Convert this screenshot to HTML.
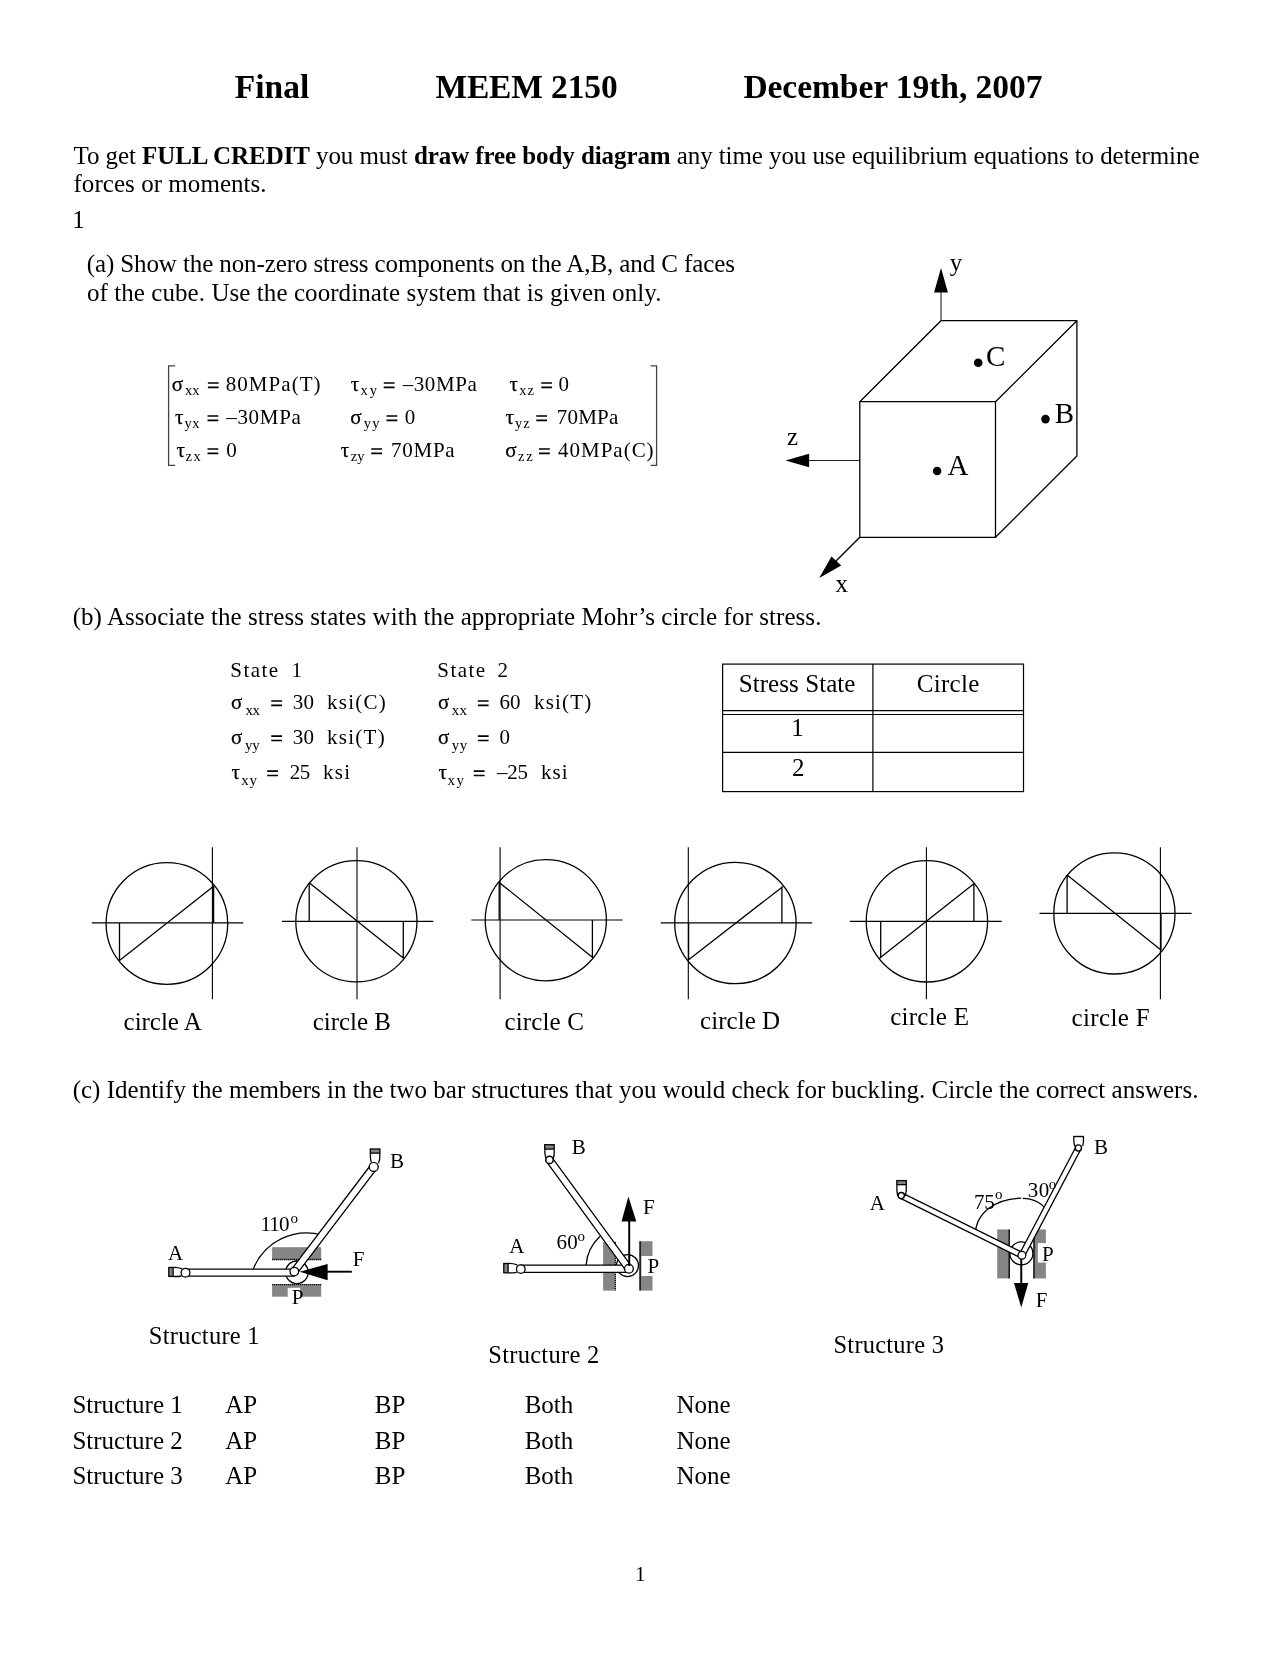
<!DOCTYPE html>
<html><head><meta charset="utf-8"><title>Final MEEM 2150</title>
<style>
html,body{margin:0;padding:0;background:#fff;}
body{width:1280px;height:1656px;overflow:hidden;}
svg{display:block;will-change:transform;}
text{font-family:"Liberation Serif",serif;fill:#000;}
</style></head><body>
<svg width="1280" height="1656" viewBox="0 0 1280 1656">
<rect width="1280" height="1656" fill="#fff"/>
<text x="234.70" y="97.50" font-size="33.5" font-weight="bold" textLength="74.61" lengthAdjust="spacing">Final</text>
<text x="435.40" y="97.50" font-size="33.5" font-weight="bold" textLength="182.30" lengthAdjust="spacing">MEEM 2150</text>
<text x="743.40" y="97.50" font-size="33.5" font-weight="bold" textLength="298.98" lengthAdjust="spacing">December 19th, 2007</text>
<text x="73.5" y="163.6" font-size="25" textLength="1126" lengthAdjust="spacing">To get <tspan font-weight="bold">FULL CREDIT</tspan> you must <tspan font-weight="bold">draw free body diagram</tspan> any time you use equilibrium equations to determine</text>
<text x="73.50" y="192.40" font-size="25" textLength="193.11" lengthAdjust="spacing">forces or moments.</text>
<text x="72.30" y="227.60" font-size="25">1</text>
<text x="86.70" y="271.60" font-size="25" textLength="648.22" lengthAdjust="spacing">(a) Show the non-zero stress components on the A,B, and C faces</text>
<text x="86.90" y="300.50" font-size="25" textLength="574.56" lengthAdjust="spacing">of the cube. Use the coordinate system that is given only.</text>
<text x="72.65" y="624.70" font-size="25" textLength="748.75" lengthAdjust="spacing">(b) Associate the stress states with the appropriate Mohr’s circle for stress.</text>
<text x="72.65" y="1098.10" font-size="25" textLength="1125.78" lengthAdjust="spacing">(c) Identify the members in the two bar structures that you would check for buckling. Circle the correct answers.</text>
<text x="171.70" y="390.80" font-size="21" stroke="#000" stroke-width="0.25">σ</text>
<text x="184.90" y="395.40" font-size="14.5" textLength="14.70" lengthAdjust="spacing">xx</text>
<path d="M207.90 382.95h10.8M207.90 387.35h10.8" stroke="#000" stroke-width="1.6" fill="none"/>
<text x="225.80" y="390.80" font-size="21" textLength="94.79" lengthAdjust="spacing">80MPa(T)</text>
<text x="350.75" y="390.80" font-size="21" stroke="#000" stroke-width="0.25">τ</text>
<text x="360.50" y="395.40" font-size="14.5" textLength="16.40" lengthAdjust="spacing">xy</text>
<path d="M383.75 382.95h10.8M383.75 387.35h10.8" stroke="#000" stroke-width="1.6" fill="none"/>
<text x="402.70" y="390.80" font-size="21" textLength="74.07" lengthAdjust="spacing">–30MPa</text>
<text x="509.50" y="390.80" font-size="21" stroke="#000" stroke-width="0.25">τ</text>
<text x="519.30" y="395.40" font-size="14.5" textLength="14.59" lengthAdjust="spacing">xz</text>
<path d="M541.25 382.95h10.8M541.25 387.35h10.8" stroke="#000" stroke-width="1.6" fill="none"/>
<text x="558.60" y="390.80" font-size="21">0</text>
<text x="175.10" y="423.80" font-size="21" stroke="#000" stroke-width="0.25">τ</text>
<text x="184.55" y="428.40" font-size="14.5" textLength="14.95" lengthAdjust="spacing">yx</text>
<path d="M207.50 415.95h10.8M207.50 420.35h10.8" stroke="#000" stroke-width="1.6" fill="none"/>
<text x="226.20" y="423.80" font-size="21" textLength="74.67" lengthAdjust="spacing">–30MPa</text>
<text x="350.20" y="423.80" font-size="21" stroke="#000" stroke-width="0.25">σ</text>
<text x="363.80" y="428.40" font-size="14.5" textLength="15.60" lengthAdjust="spacing">yy</text>
<path d="M386.50 415.95h10.8M386.50 420.35h10.8" stroke="#000" stroke-width="1.6" fill="none"/>
<text x="404.80" y="423.80" font-size="21">0</text>
<text x="505.50" y="423.80" font-size="21" stroke="#000" stroke-width="0.25">τ</text>
<text x="515.05" y="428.40" font-size="14.5" textLength="14.74" lengthAdjust="spacing">yz</text>
<path d="M536.25 415.95h10.8M536.25 420.35h10.8" stroke="#000" stroke-width="1.6" fill="none"/>
<text x="556.70" y="423.80" font-size="21" textLength="61.67" lengthAdjust="spacing">70MPa</text>
<text x="176.40" y="456.80" font-size="21" stroke="#000" stroke-width="0.25">τ</text>
<text x="185.60" y="461.40" font-size="14.5" textLength="15.19" lengthAdjust="spacing">zx</text>
<path d="M207.50 448.95h10.8M207.50 453.35h10.8" stroke="#000" stroke-width="1.6" fill="none"/>
<text x="226.30" y="456.80" font-size="21">0</text>
<text x="340.75" y="456.80" font-size="21" stroke="#000" stroke-width="0.25">τ</text>
<text x="350.85" y="461.40" font-size="14.5" textLength="13.64" lengthAdjust="spacing">zy</text>
<path d="M371.25 448.95h10.8M371.25 453.35h10.8" stroke="#000" stroke-width="1.6" fill="none"/>
<text x="391.10" y="456.80" font-size="21" textLength="63.57" lengthAdjust="spacing">70MPa</text>
<text x="505.20" y="456.80" font-size="21" stroke="#000" stroke-width="0.25">σ</text>
<text x="518.10" y="461.40" font-size="14.5" textLength="14.62" lengthAdjust="spacing">zz</text>
<path d="M539.00 448.95h10.8M539.00 453.35h10.8" stroke="#000" stroke-width="1.6" fill="none"/>
<text x="558.10" y="456.80" font-size="21" textLength="95.52" lengthAdjust="spacing">40MPa(C)</text>
<path d="M175.2 365.9H168.6V465.4H175.2M650.6 365.9H656.6V465.4H650.6" fill="none" stroke="#444" stroke-width="1.3"/>
<g fill="none" stroke="#000" stroke-width="1.3" stroke-linejoin="miter"><path d="M859.8 401.7H995.5V537.3H859.8Z"/><path d="M859.8 401.7L941 320.7H1076.9V456L995.5 537.3M995.5 401.7L1076.9 320.7"/></g>
<g stroke="#222" stroke-width="1.1" fill="none"><path d="M941 320.7V290"/><path d="M859.8 460.5H805"/></g><path d="M859.8 537.3L835 562" stroke="#000" stroke-width="1.4"/>
<g fill="#000"><path d="M941 268L934.1 292.6H947.9Z"/><path d="M785.5 460.5L809.1 453.7V467.3Z"/><path d="M819.2 577.9L831.5 556.4L841.25 565.6Z"/></g>
<g fill="#000"><circle cx="978.2" cy="362.7" r="4.3"/><circle cx="1045.5" cy="419.1" r="4.3"/><circle cx="937.1" cy="471" r="4.3"/></g>
<text x="986.10" y="366.20" font-size="29">C</text>
<text x="1054.80" y="422.60" font-size="29">B</text>
<text x="947.50" y="474.70" font-size="29">A</text>
<text x="949.70" y="271.00" font-size="25">y</text>
<text x="787.10" y="444.80" font-size="25">z</text>
<text x="835.60" y="592.00" font-size="25">x</text>
<text x="230.30" y="677.30" font-size="21" textLength="47.89" lengthAdjust="spacing">State</text>
<text x="291.60" y="677.30" font-size="21">1</text>
<text x="231.10" y="708.80" font-size="21" stroke="#000" stroke-width="0.25">σ</text>
<text x="245.40" y="714.80" font-size="15" textLength="14.60" lengthAdjust="spacing">xx</text>
<path d="M271.25 700.95h10.8M271.25 705.35h10.8" stroke="#000" stroke-width="1.6" fill="none"/>
<text x="292.75" y="708.80" font-size="21" textLength="21.35" lengthAdjust="spacing">30</text>
<text x="327.10" y="708.80" font-size="21" textLength="58.60" lengthAdjust="spacing">ksi(C)</text>
<text x="231.10" y="744.00" font-size="21" stroke="#000" stroke-width="0.25">σ</text>
<text x="245.00" y="750.00" font-size="15" textLength="14.80" lengthAdjust="spacing">yy</text>
<path d="M271.25 736.15h10.8M271.25 740.55h10.8" stroke="#000" stroke-width="1.6" fill="none"/>
<text x="292.75" y="744.00" font-size="21" textLength="21.35" lengthAdjust="spacing">30</text>
<text x="327.10" y="744.00" font-size="21" textLength="57.57" lengthAdjust="spacing">ksi(T)</text>
<text x="231.50" y="779.00" font-size="21" stroke="#000" stroke-width="0.25">τ</text>
<text x="241.30" y="785.00" font-size="15" textLength="15.70" lengthAdjust="spacing">xy</text>
<path d="M267.20 771.15h10.8M267.20 775.55h10.8" stroke="#000" stroke-width="1.6" fill="none"/>
<text x="289.70" y="779.00" font-size="21" textLength="20.50" lengthAdjust="spacing">25</text>
<text x="323.00" y="779.00" font-size="21" textLength="27.11" lengthAdjust="spacing">ksi</text>
<text x="437.35" y="677.30" font-size="21" textLength="47.74" lengthAdjust="spacing">State</text>
<text x="497.50" y="677.30" font-size="21">2</text>
<text x="437.95" y="708.80" font-size="21" stroke="#000" stroke-width="0.25">σ</text>
<text x="451.80" y="714.80" font-size="15" textLength="15.30" lengthAdjust="spacing">xx</text>
<path d="M477.80 700.95h10.8M477.80 705.35h10.8" stroke="#000" stroke-width="1.6" fill="none"/>
<text x="499.40" y="708.80" font-size="21" textLength="21.20" lengthAdjust="spacing">60</text>
<text x="534.00" y="708.80" font-size="21" textLength="57.22" lengthAdjust="spacing">ksi(T)</text>
<text x="437.95" y="744.00" font-size="21" stroke="#000" stroke-width="0.25">σ</text>
<text x="451.70" y="750.00" font-size="15" textLength="15.50" lengthAdjust="spacing">yy</text>
<path d="M477.80 736.15h10.8M477.80 740.55h10.8" stroke="#000" stroke-width="1.6" fill="none"/>
<text x="499.50" y="744.00" font-size="21">0</text>
<text x="438.40" y="779.00" font-size="21" stroke="#000" stroke-width="0.25">τ</text>
<text x="447.60" y="785.00" font-size="15" textLength="16.40" lengthAdjust="spacing">xy</text>
<path d="M473.75 771.15h10.8M473.75 775.55h10.8" stroke="#000" stroke-width="1.6" fill="none"/>
<text x="497.10" y="779.00" font-size="21" textLength="31.00" lengthAdjust="spacing">–25</text>
<text x="541.00" y="779.00" font-size="21" textLength="26.61" lengthAdjust="spacing">ksi</text>
<g fill="none" stroke="#000" stroke-width="1.2"><rect x="722.6" y="664.1" width="300.9" height="127.5"/><path d="M872.9 664.1V791.6M722.6 710.6H1023.5M722.6 714.5H1023.5M722.6 752.3H1023.5"/></g>
<text x="738.70" y="691.70" font-size="25" textLength="116.77" lengthAdjust="spacing">Stress State</text>
<text x="916.80" y="691.70" font-size="25" textLength="62.48" lengthAdjust="spacing">Circle</text>
<text x="791.30" y="735.50" font-size="25">1</text>
<text x="791.90" y="775.60" font-size="25">2</text>
<path d="M91.9 922.9H243.3M212.4 847.2V999.2" fill="none" stroke="#000" stroke-width="1.1"/>
<circle cx="166.9" cy="923.5" r="60.8" fill="none" stroke="#000" stroke-width="1.3"/>
<path d="M119.5 960.6L214.2 885.8M119.5 922.9V960.6M213.6 922.9V885.8" fill="none" stroke="#000" stroke-width="1.3"/>
<text x="123.60" y="1030.40" font-size="25" textLength="78.23" lengthAdjust="spacing">circle A</text>
<path d="M281.9 921.4H433.3M357 847.2V999.2" fill="none" stroke="#000" stroke-width="1.1"/>
<circle cx="356.4" cy="921.3" r="60.6" fill="none" stroke="#000" stroke-width="1.3"/>
<path d="M309.2 882.8L403.6 958.3M309.2 921.4V882.8M403.3 921.4V958.3" fill="none" stroke="#000" stroke-width="1.3"/>
<text x="312.80" y="1030.40" font-size="25" textLength="78.03" lengthAdjust="spacing">circle B</text>
<path d="M471.3 920H622.7M500.1 847.2V999.2" fill="none" stroke="#000" stroke-width="1.1"/>
<circle cx="545.8" cy="920.2" r="60.6" fill="none" stroke="#000" stroke-width="1.3"/>
<path d="M498.6 882L593 957.7M499.2 920V882M592.4 920V957.7" fill="none" stroke="#000" stroke-width="1.3"/>
<text x="504.50" y="1030.40" font-size="25" textLength="79.43" lengthAdjust="spacing">circle C</text>
<path d="M660.7 922.9H812.1M688.3 847.2V999.2" fill="none" stroke="#000" stroke-width="1.1"/>
<circle cx="735.4" cy="923" r="60.7" fill="none" stroke="#000" stroke-width="1.3"/>
<path d="M688.3 960L783 886.4M781.9 922.9V886.4M688.6 922.9V960" fill="none" stroke="#000" stroke-width="1.3"/>
<text x="700.10" y="1028.90" font-size="25" textLength="80.01" lengthAdjust="spacing">circle D</text>
<path d="M849.8 921.4H1001.8M926.4 847.2V999.2" fill="none" stroke="#000" stroke-width="1.1"/>
<circle cx="926.9" cy="921.3" r="60.7" fill="none" stroke="#000" stroke-width="1.3"/>
<path d="M879.5 958.3L974.2 883.4M880.7 921.4V958.3M973.9 921.4V883.4" fill="none" stroke="#000" stroke-width="1.3"/>
<text x="890.20" y="1024.50" font-size="25" textLength="78.73" lengthAdjust="spacing">circle E</text>
<path d="M1039.5 913.4H1191.5M1160.4 847.2V999.2" fill="none" stroke="#000" stroke-width="1.1"/>
<circle cx="1114.4" cy="913.4" r="60.6" fill="none" stroke="#000" stroke-width="1.3"/>
<path d="M1067.1 875.1L1161.3 950.2M1067.1 913.4V875.1M1161 913.4V950.2" fill="none" stroke="#000" stroke-width="1.3"/>
<text x="1071.60" y="1026.00" font-size="25" textLength="78.06" lengthAdjust="spacing">circle F</text>
<rect x="272.1" y="1247.2" width="49.10" height="12.90" fill="#858585"/>
<path d="M272.1 1259.5H321.2" stroke="#000" stroke-width="1.3" stroke-dasharray="1.2 0.8" fill="none"/>
<rect x="272.1" y="1284.1" width="49.10" height="12.60" fill="#858585"/>
<path d="M272.1 1284.7H321.2" stroke="#000" stroke-width="1.3" stroke-dasharray="1.2 0.8" fill="none"/>
<rect x="287.7" y="1287.8" width="12.50" height="9.70" fill="#fff"/>
<path d="M253.4 1268.75A57.5 57.5 0 0 1 322.6 1235.2" fill="none" stroke="#000" stroke-width="1.3"/>
<circle cx="296.9" cy="1272.3" r="11.3" fill="#fff" stroke="#000" stroke-width="1.3"/>
<path d="M185.50 1276.20 L294.30 1276.20 L294.30 1269.10 L185.50 1269.10Z" fill="#fff" stroke="#000" stroke-width="1.3"/>
<path d="M297.09 1273.62 L376.49 1169.02 L370.91 1164.78 L291.51 1269.38Z" fill="#fff" stroke="#000" stroke-width="1.3"/>
<rect x="168.80" y="1267.50" width="4.30" height="8.90" fill="#858585" stroke="#000" stroke-width="1.3"/>
<path d="M173.4 1267.4Q178 1267.2 182.3 1268.9M173.4 1276.5Q178 1276.6 181.6 1276" fill="none" stroke="#000" stroke-width="1.3"/>
<circle cx="185.5" cy="1272.8" r="4.4" fill="#fff" stroke="#000" stroke-width="1.3"/>
<rect x="370.30" y="1149.00" width="9.60" height="4.15" fill="#858585" stroke="#000" stroke-width="1.3"/>
<path d="M370.4 1153.5Q370 1158.5 371.2 1162.2M379.8 1153.5Q380.2 1159 378.6 1163.4" fill="none" stroke="#000" stroke-width="1.3"/>
<circle cx="373.7" cy="1166.9" r="4.5" fill="#fff" stroke="#000" stroke-width="1.3"/>
<circle cx="294.3" cy="1271.6" r="4.3" fill="#fff" stroke="#000" stroke-width="1.3"/>
<path d="M326 1271.7H351.8" fill="none" stroke="#000" stroke-width="1.9"/>
<path d="M299.8 1271.7 L327.6 1263.9 L327.6 1280.3Z" fill="#000"/>
<text x="168.00" y="1259.50" font-size="21">A</text>
<text x="389.90" y="1168.00" font-size="21">B</text>
<text x="352.70" y="1265.50" font-size="21">F</text>
<text x="291.80" y="1304.30" font-size="21">P</text>
<text x="260.40" y="1230.50" font-size="21" textLength="29.17" lengthAdjust="spacing">110</text>
<text x="290.50" y="1222.70" font-size="15">o</text>
<text x="148.80" y="1343.60" font-size="24.5" textLength="110.78" lengthAdjust="spacing">Structure 1</text>
<rect x="603.1" y="1241.9" width="12.80" height="48.70" fill="#858585"/>
<path d="M615.3 1241.9V1290.6" stroke="#000" stroke-width="1.3" stroke-dasharray="1.2 0.8" fill="none"/>
<rect x="639.4" y="1241.25" width="13.10" height="49.35" fill="#858585"/>
<path d="M640.1 1241.25V1290.6" stroke="#000" stroke-width="1.3" fill="none"/>
<rect x="641.4" y="1256" width="12.10" height="20.00" fill="#fff"/>
<path d="M586.1 1265.2A43 43 0 0 1 599.9 1236.6" fill="none" stroke="#000" stroke-width="1.3"/>
<circle cx="627.5" cy="1265.6" r="11" fill="#fff" stroke="#000" stroke-width="1.3"/>
<path d="M520.80 1272.30 L628.90 1272.30 L628.90 1265.20 L520.80 1265.20Z" fill="#fff" stroke="#000" stroke-width="1.3"/>
<path d="M546.67 1161.96 L626.07 1270.81 L631.73 1266.69 L552.33 1157.84Z" fill="#fff" stroke="#000" stroke-width="1.3"/>
<rect x="503.80" y="1263.50" width="4.30" height="9.30" fill="#858585" stroke="#000" stroke-width="1.3"/>
<path d="M508.4 1263.4Q513 1263.3 517.3 1264.9M508.4 1272.9Q513 1273 516.8 1272.4" fill="none" stroke="#000" stroke-width="1.3"/>
<circle cx="520.8" cy="1269.1" r="4.3" fill="#fff" stroke="#000" stroke-width="1.3"/>
<rect x="544.70" y="1144.70" width="9.50" height="4.40" fill="#858585" stroke="#000" stroke-width="1.3"/>
<path d="M544.9 1149.5Q544.5 1154.5 545.9 1158.4M554.2 1149.5Q554.6 1155 553.3 1158.9" fill="none" stroke="#000" stroke-width="1.3"/>
<circle cx="549.5" cy="1159.9" r="3.7" fill="#fff" stroke="#000" stroke-width="1.5"/>
<circle cx="628.9" cy="1268.75" r="4.4" fill="#fff" stroke="#000" stroke-width="1.3"/>
<path d="M629.2 1221V1266" fill="none" stroke="#000" stroke-width="2.0"/>
<path d="M628.4 1196.6 L621.5 1221.4 L636.3 1221.4Z" fill="#000"/>
<text x="509.30" y="1252.70" font-size="21">A</text>
<text x="571.70" y="1154.00" font-size="21">B</text>
<text x="643.00" y="1213.50" font-size="21">F</text>
<text x="647.50" y="1273.40" font-size="21">P</text>
<text x="556.60" y="1248.80" font-size="21" textLength="21.20" lengthAdjust="spacing">60</text>
<text x="577.60" y="1241.00" font-size="15">o</text>
<text x="488.20" y="1363.00" font-size="24.5" textLength="111.08" lengthAdjust="spacing">Structure 2</text>
<rect x="997.2" y="1229.4" width="12.50" height="49.00" fill="#858585"/>
<path d="M1009.2 1229.4V1278.4" stroke="#000" stroke-width="1.3" fill="none"/>
<rect x="1033.4" y="1229.4" width="12.50" height="49.00" fill="#858585"/>
<path d="M1034 1229.4V1278.4" stroke="#000" stroke-width="1.3" fill="none"/>
<rect x="1037.8" y="1243.1" width="9.20" height="19.40" fill="#fff"/>
<path d="M975.5 1234.2C975.5 1213 996 1198.3 1021.2 1198.2" fill="none" stroke="#000" stroke-width="1.3"/>
<path d="M1022.7 1198.3C1034 1198.5 1044 1204 1047.6 1212.6" fill="none" stroke="#000" stroke-width="1.3"/>
<circle cx="1021.4" cy="1253.4" r="11.5" fill="#fff" stroke="#000" stroke-width="1.3"/>
<path d="M900.03 1198.06 L1020.68 1257.76 L1023.12 1252.84 L902.47 1193.14Z" fill="#fff" stroke="#000" stroke-width="1.3"/>
<path d="M1075.97 1146.72 L1019.47 1254.02 L1024.33 1256.58 L1080.83 1149.28Z" fill="#fff" stroke="#000" stroke-width="1.3"/>
<rect x="896.85" y="1180.60" width="9.45" height="4.10" fill="#858585" stroke="#000" stroke-width="1.3"/>
<path d="M896.9 1185.1Q896.6 1191 897.7 1196M906.3 1185.1Q906.7 1191 905.2 1196" fill="none" stroke="#000" stroke-width="1.3"/>
<circle cx="901.25" cy="1195.6" r="3.1" fill="#fff" stroke="#000" stroke-width="1.4"/>
<path d="M1073.2 1136.5H1083.9" fill="none" stroke="#000" stroke-width="1.4"/>
<path d="M1073.8 1136.8Q1073.5 1142 1074.7 1146.2M1083.5 1136.8Q1083.8 1142 1082.7 1146.2" fill="none" stroke="#000" stroke-width="1.3"/>
<circle cx="1078.4" cy="1148" r="3.1" fill="#fff" stroke="#000" stroke-width="1.4"/>
<circle cx="1021.9" cy="1255.3" r="3.9" fill="#fff" stroke="#000" stroke-width="1.3"/>
<path d="M1021.25 1259V1284" fill="none" stroke="#000" stroke-width="2.0"/>
<path d="M1014 1283.1 L1028.3 1283.1 L1021.25 1307.6Z" fill="#000"/>
<text x="869.80" y="1210.00" font-size="21">A</text>
<text x="1094.00" y="1153.70" font-size="21">B</text>
<text x="1041.90" y="1260.60" font-size="21">P</text>
<text x="1035.65" y="1306.90" font-size="21">F</text>
<text x="974.10" y="1208.70" font-size="21" textLength="20.70" lengthAdjust="spacing">75</text>
<text x="995.10" y="1199.20" font-size="15">o</text>
<text x="1027.75" y="1196.60" font-size="21" textLength="21.55" lengthAdjust="spacing">30</text>
<text x="1048.80" y="1188.50" font-size="15">o</text>
<text x="833.50" y="1353.00" font-size="24.5" textLength="110.38" lengthAdjust="spacing">Structure 3</text>
<text x="72.40" y="1413.10" font-size="25">Structure 1</text>
<text x="225.20" y="1413.10" font-size="25">AP</text>
<text x="374.80" y="1413.10" font-size="25">BP</text>
<text x="524.70" y="1413.10" font-size="25">Both</text>
<text x="676.40" y="1413.10" font-size="25">None</text>
<text x="72.40" y="1449.10" font-size="25">Structure 2</text>
<text x="225.20" y="1449.10" font-size="25">AP</text>
<text x="374.80" y="1449.10" font-size="25">BP</text>
<text x="524.70" y="1449.10" font-size="25">Both</text>
<text x="676.40" y="1449.10" font-size="25">None</text>
<text x="72.40" y="1484.00" font-size="25">Structure 3</text>
<text x="225.20" y="1484.00" font-size="25">AP</text>
<text x="374.80" y="1484.00" font-size="25">BP</text>
<text x="524.70" y="1484.00" font-size="25">Both</text>
<text x="676.40" y="1484.00" font-size="25">None</text>
<text x="635.10" y="1580.60" font-size="21">1</text>
</svg>
</body></html>
